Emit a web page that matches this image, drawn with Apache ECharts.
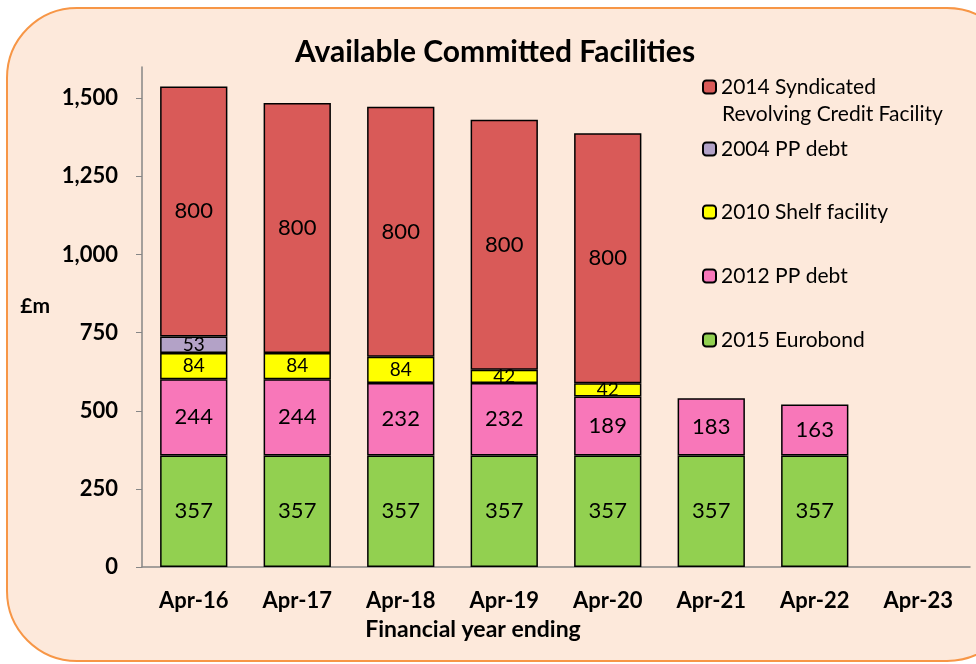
<!DOCTYPE html>
<html><head><meta charset="utf-8">
<script src="https://cdn.jsdelivr.net/npm/echarts@6/dist/echarts.min.js"></script>
<style>html,body{margin:0;padding:0;background:#fff}#c{width:976px;height:664px}</style>
</head><body><div id="c"></div>
<script>
const categories = ['Apr-16','Apr-17','Apr-18','Apr-19','Apr-20','Apr-21','Apr-22','Apr-23'];
const eurobond2015 = [357,357,357,357,357,357,357,null];
const pp2012 = [244,244,232,232,189,183,163,null];
const shelf2010 = [84,84,84,42,42,null,null,null];
const pp2004 = [53,null,null,null,null,null,null,null];
const rcf2014 = [800,800,800,800,800,null,null,null];
const yTicks = [0,250,500,750,1000,1250,1500];
const names = ['2014 Syndicated Revolving Credit Facility','2004 PP debt','2010 Shelf facility','2012 PP debt','2015 Eurobond'];

const FONT = 'Lato';
const chart = echarts.init(document.getElementById('c'));
function bar(name, data, color, fs){
  return {name, type:'bar', stack:'t', data, barWidth:'65%',
    itemStyle:{color, borderColor:'#000', borderWidth:1.5},
    label:{show:true, position:'inside', color:'#000', fontFamily:FONT, fontSize:fs,
      formatter:p=>p.value==null?'':String(p.value)}};
}
const legendCenters = [87,149,212,276,340];
const legends = names.map((n,i)=>({
  data:[n], orient:'vertical', left:697, top:legendCenters[i]-18, itemWidth:13, itemHeight:13,
  selectedMode:false, itemGap:0,
  formatter: i===0 ? ()=>'2014 Syndicated' : '{name}',
  textStyle:{fontFamily:FONT, fontSize:21, color:'#000', lineHeight:26}
}));
chart.setOption({
  animation:false,
  graphic:[
    {type:'rect', z:-10, silent:true,
     shape:{x:7,y:8,width:1010,height:653,r:70},
     style:{fill:'#FDE9DB', stroke:'#F79646', lineWidth:2}},
    {type:'text', z:10, silent:true, left:722, top:104,
     style:{text:'Revolving Credit Facility', font:'21px Lato', fill:'#000'}}
  ],
  title:{text:'Available Committed Facilities', left:490, textAlign:'center', top:32,
    textStyle:{fontFamily:FONT, fontWeight:'bold', fontSize:30, color:'#000'}},
  legend:legends,
  grid:{left:142, right:6, top:67, bottom:97},
  xAxis:{type:'category', data:categories,
    name:'Financial year ending', nameLocation:'middle', nameGap:51,
    nameTextStyle:{fontFamily:FONT, fontWeight:'bold', fontSize:23, color:'#000', padding:[0,166,0,0]},
    axisLine:{lineStyle:{color:'#868686', width:1.5}}, axisTick:{show:false},
    axisLabel:{margin:23, fontFamily:FONT, fontWeight:'bold', fontSize:22, color:'#000'}},
  yAxis:{type:'value', min:0, max:1600, interval:250,
    name:'£m', nameLocation:'middle', nameGap:92, nameRotate:0,
    nameTextStyle:{fontFamily:FONT, fontWeight:'bold', fontSize:21, color:'#000', verticalAlign:'bottom'},
    axisLine:{show:true, lineStyle:{color:'#868686', width:1.5}},
    axisTick:{show:true, length:6, customValues:yTicks, lineStyle:{color:'#868686'}},
    splitLine:{show:false},
    axisLabel:{margin:24, customValues:yTicks, fontFamily:FONT, fontWeight:'bold', fontSize:22, color:'#000',
      formatter:v=>v.toLocaleString('en-GB')}},
  series:[
    bar(names[4], eurobond2015, '#92D050', 22),
    bar(names[3], pp2012, '#F877B9', 22),
    bar(names[2], shelf2010, '#FFFF00', 19),
    bar(names[1], pp2004, '#B3A2C7', 19),
    bar(names[0], rcf2014, '#D95A58', 22)
  ]
});
</script></body></html>
